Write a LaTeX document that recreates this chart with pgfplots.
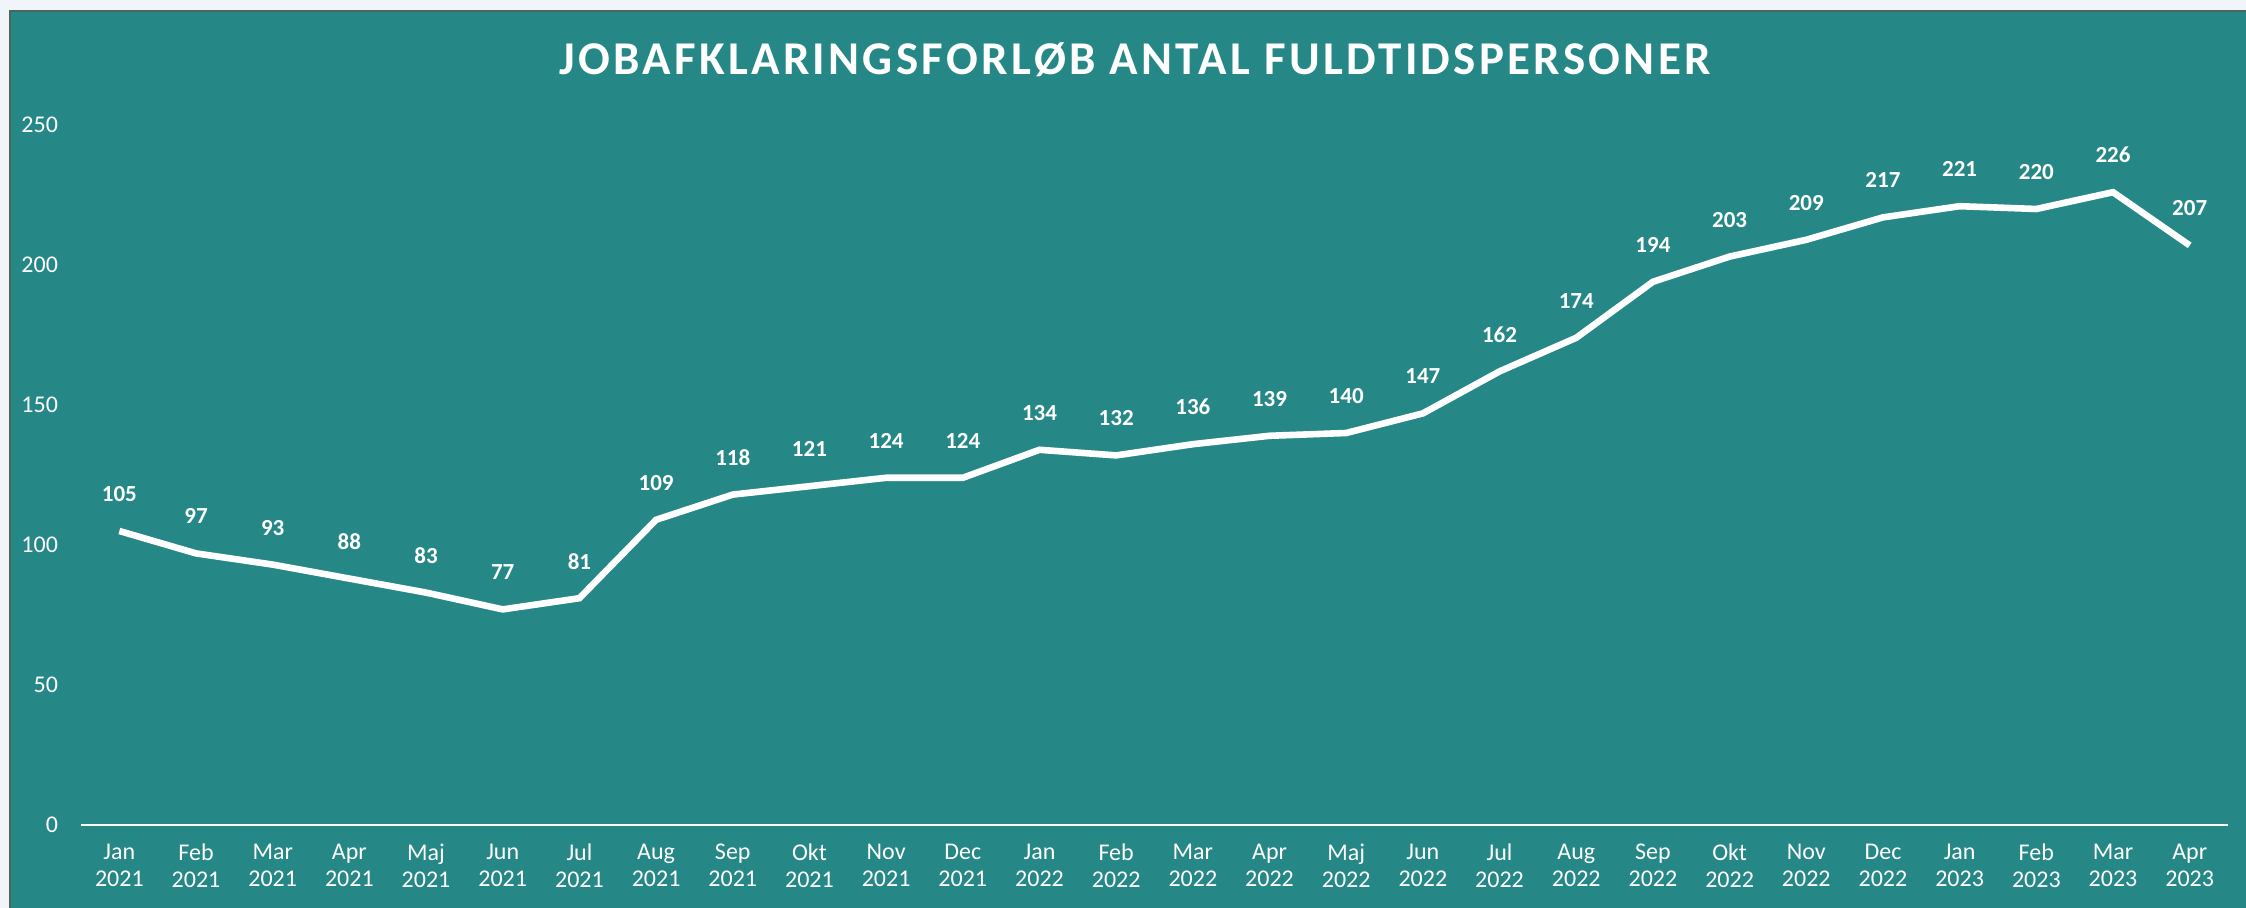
\documentclass[border=0pt]{standalone}
\usepackage{fontspec}
\setmainfont{Carlito}
\newfontfamily\titlefont[LetterSpace=7]{Carlito}
\usepackage{pgfplots}
\pgfplotsset{compat=1.18}
\definecolor{bgteal}{RGB}{37,135,134}
\definecolor{pagebg}{RGB}{241,245,249}
\definecolor{panelborder}{RGB}{74,104,88}
\pgfplotstableread{
x y
0 105
1 97
2 93
3 88
4 83
5 77
6 81
7 109
8 118
9 121
10 124
11 124
12 134
13 132
14 136
15 139
16 140
17 147
18 162
19 174
20 194
21 203
22 209
23 217
24 221
25 220
26 226
27 207
}\datatable
\begin{document}
\begin{tikzpicture}
\useasboundingbox (0,0) rectangle (1123pt,454pt);
\fill[pagebg] (0,0) rectangle (1123pt,454pt);
\fill[bgteal] (4.5pt,0) rectangle (1123pt,449pt);
\draw[panelborder, line width=1pt] (5pt,0) -- (5pt,448.5pt) -- (1123pt,448.5pt);
\node[font=\titlefont\fontsize{23.5}{28}\selectfont\bfseries, text=white, inner sep=0pt] at (567.5pt,424.25pt) {JOBAFKLARINGSFORLØB ANTAL FULDTIDSPERSONER};
\begin{axis}[
  at={(40.5pt,41.5pt)}, anchor=south west, scale only axis,
  width=1073.5pt, height=350pt,
  xmin=-0.5, xmax=27.5, ymin=0, ymax=250,
  axis x line*=bottom, axis y line*=left,
  x axis line style={white, line width=1.3pt, -},
  y axis line style={draw=none},
  major tick length=0pt,
  xtick={0,...,27},
  xticklabels={Jan\\2021,Feb\\2021,Mar\\2021,Apr\\2021,Maj\\2021,Jun\\2021,Jul\\2021,Aug\\2021,Sep\\2021,Okt\\2021,Nov\\2021,Dec\\2021,Jan\\2022,Feb\\2022,Mar\\2022,Apr\\2022,Maj\\2022,Jun\\2022,Jul\\2022,Aug\\2022,Sep\\2022,Okt\\2022,Nov\\2022,Dec\\2022,Jan\\2023,Feb\\2023,Mar\\2023,Apr\\2023},
  ytick={0,50,...,250},
  /pgf/number format/assume math mode=true,
  tick label style={text=white},
  xticklabel style={align=center, font=\fontsize{12}{13.5}\selectfont, yshift=-6pt},
  yticklabel style={font=\fontsize{12}{13.5}\selectfont, xshift=-8pt},
  clip=false,
]
\addplot[white, line width=3.3pt, mark=none,
  nodes near coords,
  every node near coord/.append style={font=\bfseries\fontsize{11.5}{13}\selectfont, text=white, anchor=center, yshift=18.5pt}]
  table[x=x,y=y] {\datatable};
\end{axis}
\end{tikzpicture}
\end{document}
